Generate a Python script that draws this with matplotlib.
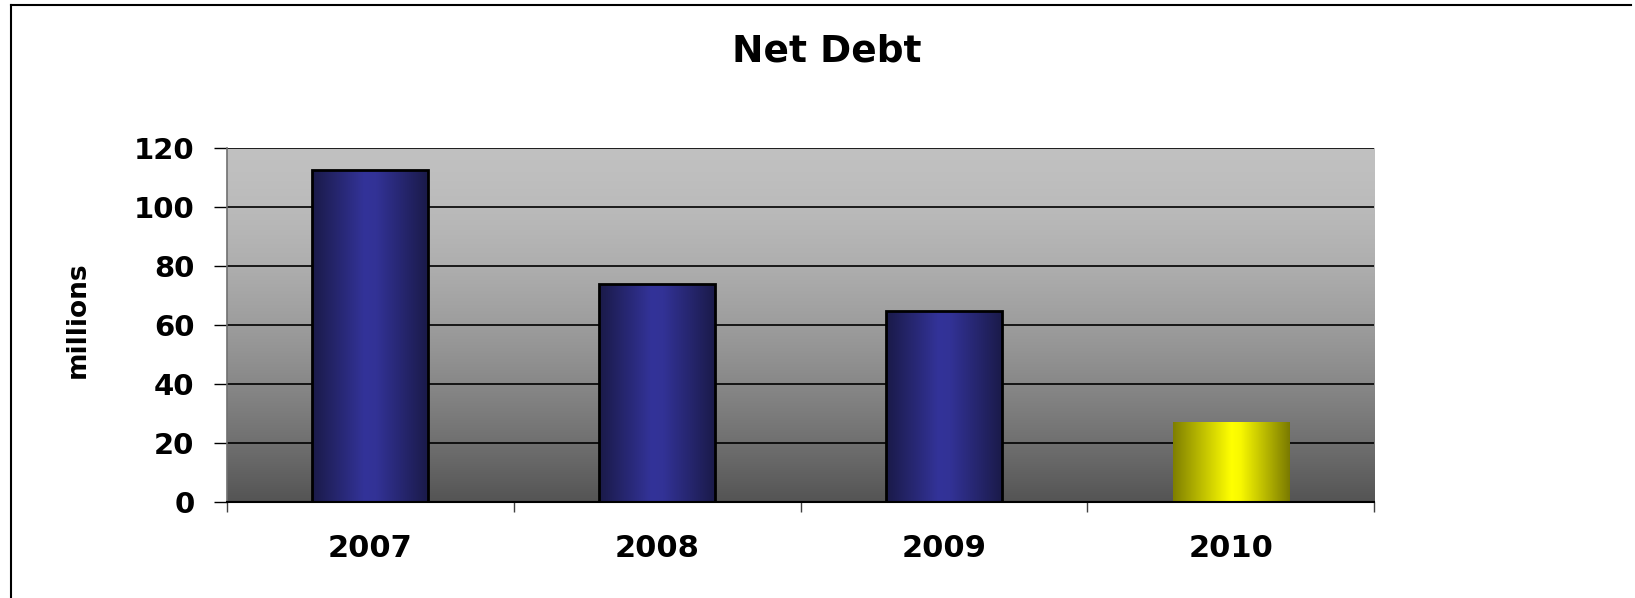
import numpy as np
import matplotlib
matplotlib.use("Agg")
import matplotlib.pyplot as plt
from matplotlib.colors import LinearSegmentedColormap
from matplotlib.lines import Line2D

# ---- data ----
categories = ["2007", "2008", "2009", "2010"]
net_debt = [112.5, 73.9, 64.7, 27.1]
y_ticks = [0, 20, 40, 60, 80, 100, 120]
title = "Net Debt"
y_label = "millions"

W, H = 1635, 598
fig = plt.figure(figsize=(W / 100, H / 100), dpi=100)
fig.patch.set_facecolor("white")

left, right, top, bottom = 227, 1374, 148, 502
ax = fig.add_axes([left / W, 1 - bottom / H, (right - left) / W, (bottom - top) / H])

x = np.arange(1, len(categories) + 1)
ax.set_xlim(0.5, len(categories) + 0.5)
ax.set_ylim(0, 120)

# background vertical gradient
t = np.linspace(0, 1, 256)[:, None]  # 0 bottom -> 1 top
shade = 0.33 + (0.755 - 0.33) * (1 - (1 - t) ** 1.6)
bg = np.dstack([shade, shade, shade])
ax.imshow(bg, extent=[0.5, len(categories) + 0.5, 0, 120], origin="lower",
          aspect="auto", zorder=0, interpolation="bilinear")

# gridlines
for yv in y_ticks[1:]:
    ax.axhline(yv, color="black", lw=1.2, zorder=1)

blue_cmap = LinearSegmentedColormap.from_list(
    "b", [(0, "#1a1a48"), (0.45, "#333399"), (0.55, "#323296"), (1, "#1a1a48")])
yel_cmap = LinearSegmentedColormap.from_list(
    "y", [(0, "#7f7f00"), (0.5, "#ffff00"), (0.58, "#f8f800"), (1, "#7a7a00")])

colors_flag = ["blue", "blue", "blue", "yellow"]
bars = ax.bar(x, net_debt, width=0.405, color="none", zorder=3)
grad = np.linspace(0, 1, 256)[None, :]
for b, flag in zip(bars, colors_flag):
    x0, w, h = b.get_x(), b.get_width(), b.get_height()
    cmap = blue_cmap if flag == "blue" else yel_cmap
    im = ax.imshow(grad, extent=[x0, x0 + w, 0, h], origin="lower", aspect="auto",
                   cmap=cmap, zorder=2, interpolation="bilinear")
    im.set_clip_path(b)
    if flag == "blue":
        b.set_edgecolor("black")
        b.set_linewidth(2.0)
    else:
        b.set_edgecolor("none")

ax.set_xlim(0.5, len(categories) + 0.5)
ax.set_ylim(0, 120)

# spines
for s in ["top", "right"]:
    ax.spines[s].set_visible(False)
ax.spines["left"].set_color("#707070")
ax.spines["left"].set_linewidth(1.2)
ax.spines["bottom"].set_color("black")
ax.spines["bottom"].set_linewidth(1.5)
ax.spines["bottom"].set_zorder(4)

# y ticks
ax.set_yticks(y_ticks)
ax.set_yticklabels([str(v) for v in y_ticks], fontfamily="DejaVu Sans",
                   fontweight="bold", fontsize=21)
ax.tick_params(axis="y", direction="out", length=9.4, width=1.0, color="black", pad=14)

# x ticks: boundaries as major (no labels), categories as minor labels
ax.set_xticks(np.arange(0.5, len(categories) + 1, 1.0))
ax.set_xticklabels([])
ax.set_xticks(x, minor=True)
ax.set_xticklabels(categories, minor=True, fontfamily="DejaVu Sans",
                   fontweight="bold", fontsize=22)
ax.tick_params(axis="x", which="major", direction="out", length=7.5, width=1.0,
               color="#404040")
ax.tick_params(axis="x", which="minor", length=0, pad=23)

ax.set_ylabel(y_label, fontfamily="DejaVu Sans", fontweight="bold", fontsize=19)
ax.yaxis.set_label_coords((91 - left) / (right - left), 0.515)

fig.text(827 / W, 1 - 52 / H, title, ha="center", va="center",
         fontfamily="DejaVu Sans", fontweight="bold", fontsize=27)

# outer frame (left and top edges)
fig.add_artist(Line2D([11 / W, 11 / W], [0, 1 - 5 / H], transform=fig.transFigure,
                      color="black", lw=1.5))
fig.add_artist(Line2D([11 / W, 1631 / W], [1 - 5 / H, 1 - 5 / H],
                      transform=fig.transFigure, color="black", lw=1.5))

fig.savefig("out.png", dpi=100)
